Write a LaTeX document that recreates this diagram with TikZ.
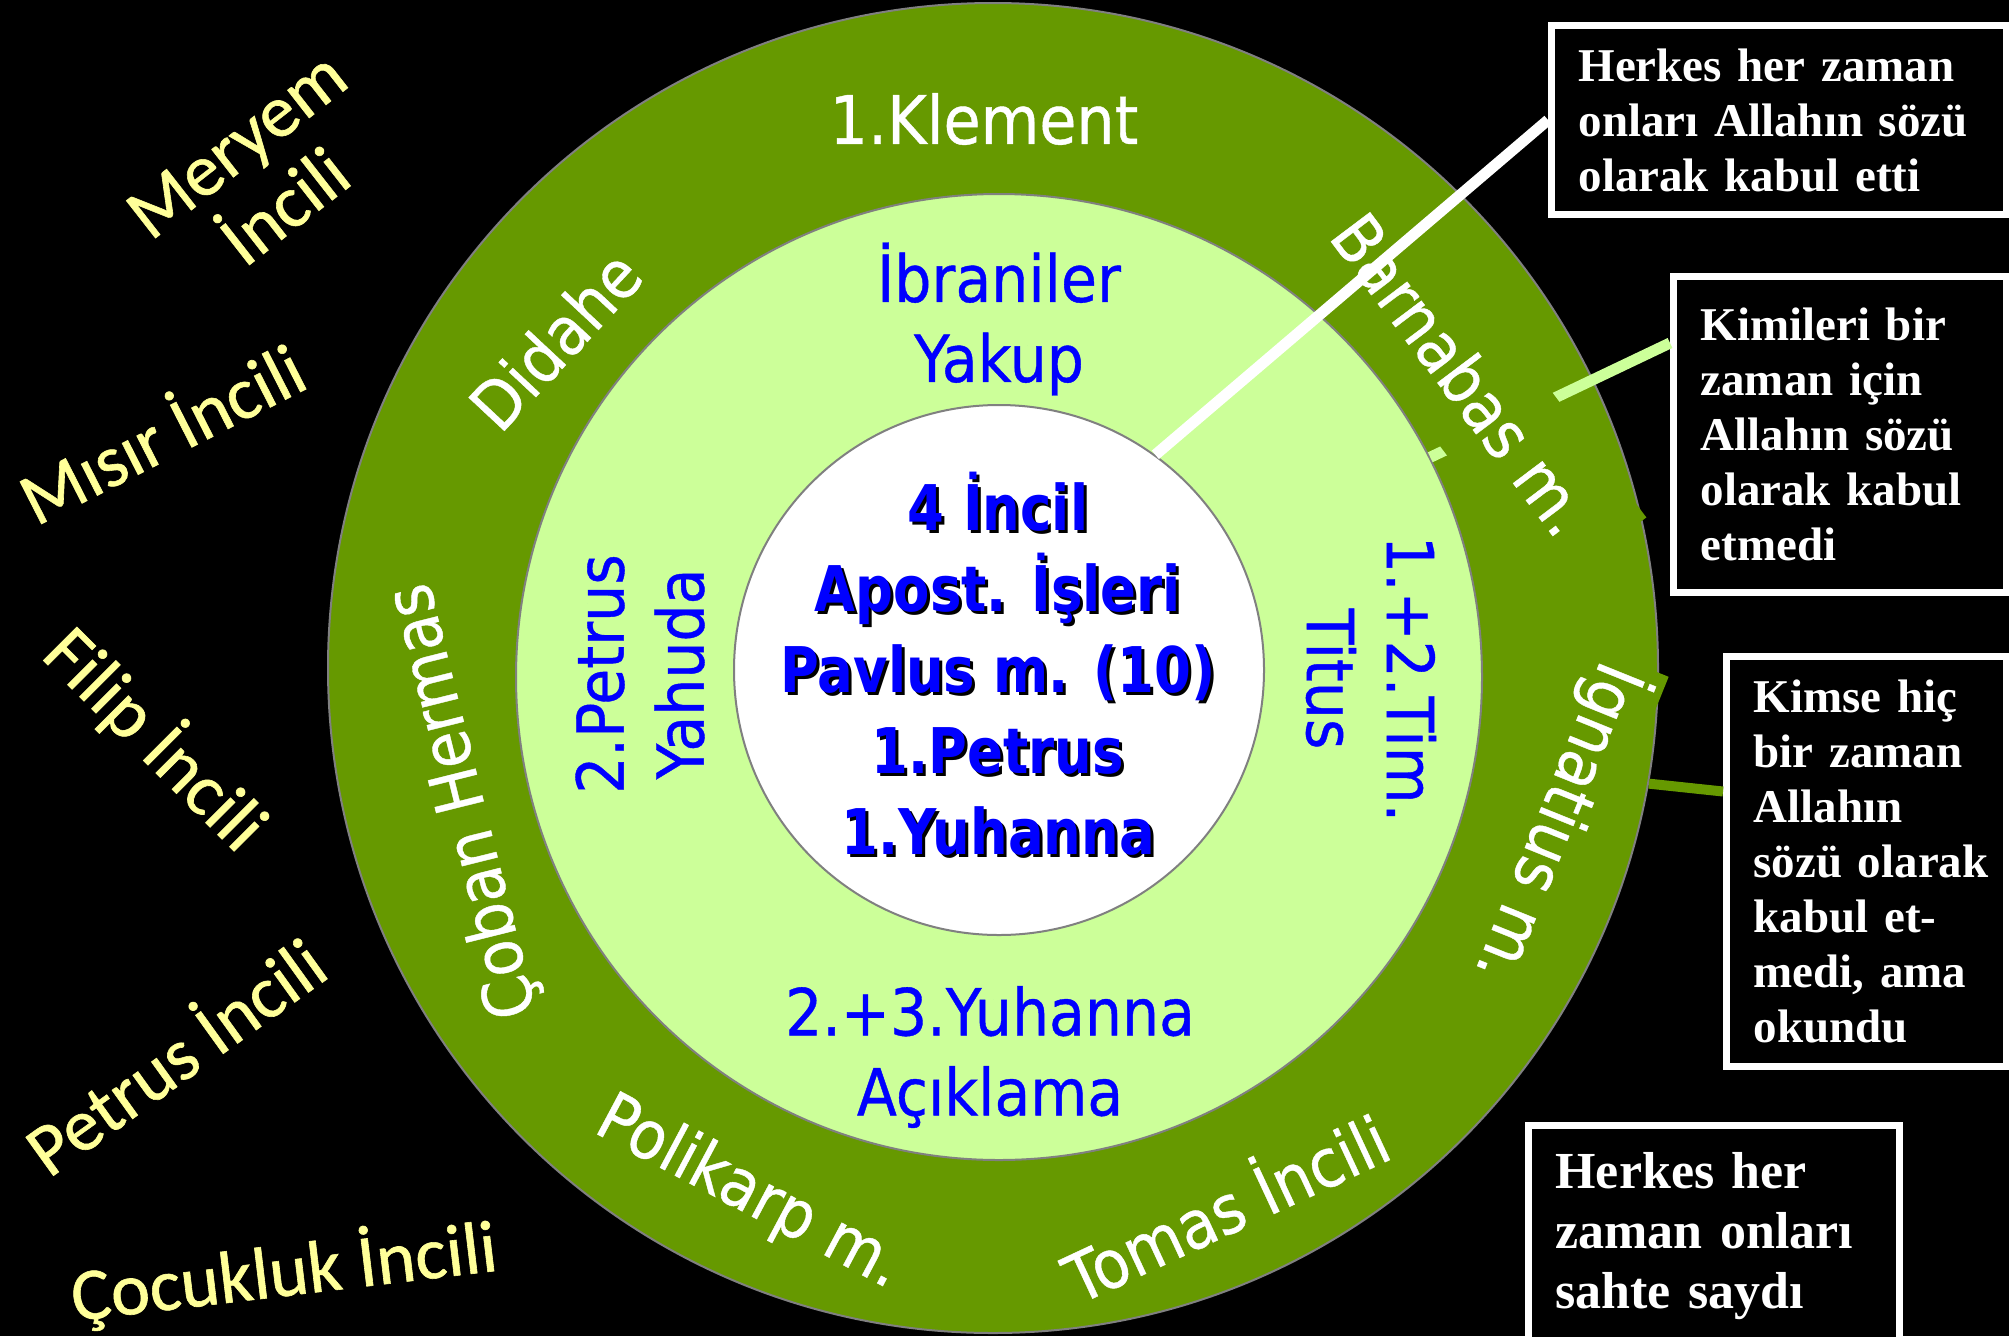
\documentclass[tikz,border=0pt]{standalone}
\usepackage{fontspec}
\setmainfont{Liberation Serif}
\newfontfamily\ringfont[FakeStretch=0.9,FakeBold=0.6]{DejaVu Sans}
\newfontfamily\ctrfont[FakeStretch=0.84]{DejaVu Sans}
\newfontfamily\yelfont[FakeBold=0.8]{Carlito}
\newfontfamily\boxfont{Liberation Serif}
\definecolor{ringgreen}{HTML}{669900}
\definecolor{lightgreen}{HTML}{CCFF99}
\definecolor{edgegray}{HTML}{808080}
\definecolor{textblue}{HTML}{0000FF}
\definecolor{paleyellow}{HTML}{FFFF99}
\begin{document}
\begin{tikzpicture}[x=1pt,y=-1pt,
  ring/.style={circle, draw=edgegray, line width=2pt, inner sep=0pt},
  ringlbl/.style={text=white, font=\ringfont\fontsize{67}{80}\selectfont, inner sep=0pt},
  bluelbl/.style={text=textblue, align=center, font=\ringfont\fontsize{65}{80}\selectfont, inner sep=0pt},
  yellbl/.style={text=paleyellow, align=center, font=\yelfont\fontsize{74}{79}\selectfont, inner sep=0pt},
  note/.style={draw=white, line width=7pt, fill=black, text=white, align=left, anchor=north west, inner xsep=27pt, inner ysep=0pt, font=\boxfont\bfseries\fontsize{47}{55}\selectfont},
  ctr/.style={align=center, font=\ctrfont\bfseries\fontsize{63}{81}\selectfont, inner sep=0pt},
  link/.style={line width=11pt},
]
\useasboundingbox (0,0) rectangle (2009,1336);
\fill[black] (0,0) rectangle (2009,1336);

% boxes
\node[note, text width=401pt, minimum width=455pt, minimum height=189pt] (box1) at (1548,22)
  {Herkes~her~zaman\\ onları~Allahın~sözü\\ olarak~kabul~etti};
\node[note, text width=279pt, minimum width=333pt, minimum height=316pt] (box2) at (1670,273)
  {Kimileri~bir\\ zaman~için\\ Allahın~sözü\\ olarak~kabul\\ etmedi};
\node[note, text width=226pt, minimum width=280pt, minimum height=410pt] (box3) at (1723,653)
  {Kimse~hiç\\ bir~zaman\\ Allahın\\ sözü~olarak\\ kabul~et-\\ medi,~ama\\ okundu};
\node[note, font=\boxfont\bfseries\fontsize{52}{60}\selectfont, text width=317pt, minimum width=371pt, minimum height=222pt] (box4) at (1525,1122)
  {Herkes~her\\ zaman~onları\\ sahte~saydı};

% circles
\node[ring, fill=ringgreen, minimum size=1330pt] (outer) at (993,668) {};
\node[ring, fill=lightgreen, minimum size=966pt] (mid) at (999,677) {};
\node[ring, fill=white, minimum size=530pt] (inner) at (999,670) {};

% light green connector (partly hidden by the Barnabas label)
\draw[link, lightgreen] ([yshift=-70pt]box2.north west) -- (mid.27);

% outer ring labels
\node[ringlbl] (klement) at (984,119) {1.Klement};
\node[ringlbl, rotate=47] (didahe) at (555,340) {Didahe};
\node[ringlbl, fill=ringgreen, inner sep=35pt, rotate=-53] (barnabas) at (1462,374) {Barnabas m.};
\node[ringlbl, fill=ringgreen, inner sep=8pt, rotate=-112] (ignatius) at (1560,824) {İgnatius m.};
\node[ringlbl, rotate=104] (coban) at (464,801) {Çoban Hermas};
\node[ringlbl, rotate=-28] (polikarp) at (749,1194) {Polikarp m.};
\node[ringlbl, rotate=25] (tomas) at (1224,1204) {Tomas İncili};

% middle ring labels
\node[bluelbl] (ibraniler) at (999,319) {İbraniler\\Yakup};
\node[bluelbl] (yuhanna23) at (990,1057) {2.+3.Yuhanna\\Açıklama};
\node[bluelbl, rotate=90] (petrus2) at (640,674) {2.Petrus\\Yahuda};
\node[bluelbl, rotate=-90] (tim) at (1371,679) {1.+2.Tim.\\Titus};

% centre
\node[ctr, text=black] (ctrshadow) at (1001,667) {4 İncil\\Apost. İşleri\\Pavlus m. (10)\\1.Petrus\\1.Yuhanna};
\node[ctr, text=textblue] (ctrtext) at (998,664) {4 İncil\\Apost. İşleri\\Pavlus m. (10)\\1.Petrus\\1.Yuhanna};

% outside labels
\node[yellbl, rotate=38] (meryem) at (261,176) {Meryem\\İncili};
\node[yellbl, rotate=27] (misir) at (160,430) {Mısır İncili};
\node[yellbl, rotate=-45] (filip) at (156,739) {Filip İncili};
\node[yellbl, rotate=35.7] (petrusinc) at (173,1053) {Petrus İncili};
\node[yellbl, rotate=6.8] (cocukluk) at (284,1272) {Çocukluk İncili};

% connectors
\draw[link, white] (box1.west) -- (inner.54);
\draw[link, ringgreen, line width=10pt] ([yshift=70pt]box3.west) -- (outer.-10.4);
\end{tikzpicture}
\end{document}
